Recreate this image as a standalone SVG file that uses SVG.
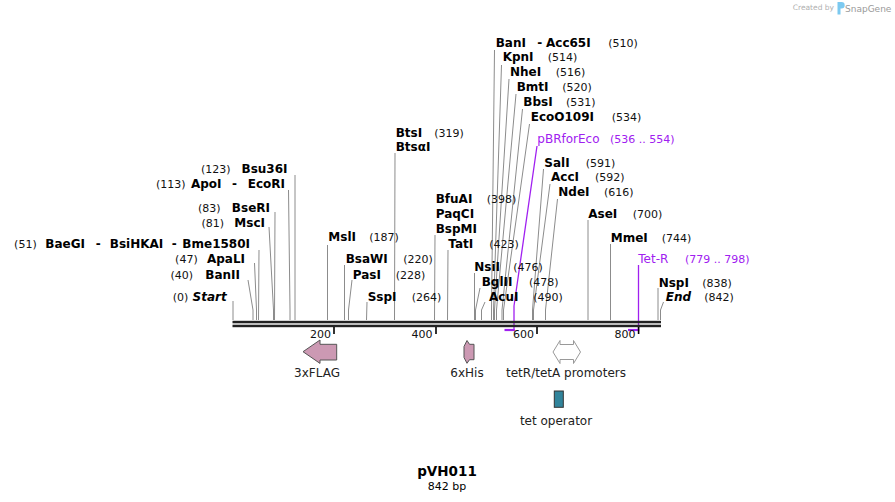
<svg xmlns="http://www.w3.org/2000/svg" width="895" height="502" viewBox="0 0 895 502">
<style>
text{font-family:"DejaVu Sans","Verdana",sans-serif;fill:#000}
.n{font-size:12px;font-weight:bold}
.i{font-size:12px;font-weight:bold;font-style:italic}
.p{font-size:11px;fill:#111}
.d{font-size:12px}
.m{font-size:12px;fill:#a020f0}
.mp{font-size:11px;fill:#a020f0}
.e{text-anchor:end}
.c{text-anchor:middle}
.f{font-size:12px;fill:#222}
.ld{fill:none;stroke:#8c8c8c;stroke-width:1}
.pr{fill:none;stroke:#a020f0;stroke-width:1.3}
.prh{stroke:#a020f0;stroke-width:2.2}
.tk{stroke:#000;stroke-width:1.6}
.pink{fill:#cc99b3;stroke:#555;stroke-width:1}
</style>

<g id="credit">
<text x="834" y="10" class="e" style="font-size:7.5px;fill:#b0b0b0">Created by</text>
<path d="M837.5,2 h4 a3.2,3.2 0 0 1 0,6.4 h-1 v6 h-3 z" fill="#7cc9f0"/>
<text x="845" y="11.5" style="font-size:9px;fill:#9a9a9a">SnapGene</text>
</g>

<g id="connectors">
<polyline class="ld" points="233,301 233,320"/>
<polyline class="ld" points="248,280 253,310 253,320"/>
<polyline class="ld" points="254.5,263 256.5,310 256.5,320"/>
<polyline class="ld" points="259,250 258.5,320"/>
<polyline class="ld" points="269,227 273.5,310 273.5,320"/>
<polyline class="ld" points="275,212 274.5,320"/>
<polyline class="ld" points="288.5,190 290,310 290,320"/>
<polyline class="ld" points="295,175 295,320"/>
<polyline class="ld" points="327.5,245 327.5,320"/>
<polyline class="ld" points="344.5,265 344.5,320"/>
<polyline class="ld" points="352,280 348.5,310 348.5,320"/>
<polyline class="ld" points="367,302 366.5,320"/>
<polyline class="ld" points="395,153 394.5,320"/>
<polyline class="ld" points="435,235 434.5,320"/>
<polyline class="ld" points="448,250 447.5,320"/>
<polyline class="ld" points="474.5,273 474.5,320"/>
<polyline class="ld" points="480,288 475.5,310 475.5,320"/>
<polyline class="ld" points="485,302 481.5,310 481.5,320"/>
<polyline class="ld" points="494.5,50 491.5,310 491.5,320"/>
<polyline class="ld" points="501.5,65 493.5,310 493.5,320"/>
<polyline class="ld" points="509,79 494.5,310 494.5,320"/>
<polyline class="ld" points="516,94 496.5,310 496.5,320"/>
<polyline class="ld" points="522.5,109 502,310 502,320"/>
<polyline class="ld" points="529.5,124 503.5,310 503.5,320"/>
<polyline class="ld" points="543.5,169 532.5,310 532.5,320"/>
<polyline class="ld" points="550,184 533.5,310 533.5,320"/>
<polyline class="ld" points="557.5,199 545.5,310 545.5,320"/>
<polyline class="ld" points="588,220 588,320"/>
<polyline class="ld" points="610.5,244 610.5,320"/>
<polyline class="ld" points="658,288 658,320"/>
<polyline class="ld" points="663.5,302 660.5,310 660.5,320"/>
<polyline class="pr" points="537,146 514,306 514,331"/>
<line class="prh" x1="504.5" y1="330" x2="514.6" y2="330"/>
<polyline class="pr" points="638.5,265 638.5,331"/>
<line class="prh" x1="628" y1="330" x2="639.1" y2="330"/>
</g>

<g id="dna">
<rect x="232.5" y="320.8" width="428.5" height="2.5" fill="#222"/>
<rect x="232.5" y="324.7" width="428.5" height="2.5" fill="#222"/>
<line class="tk" x1="334" y1="327" x2="334" y2="334"/>
<line class="tk" x1="436" y1="327" x2="436" y2="334"/>
<line class="tk" x1="537" y1="327" x2="537" y2="334"/>
<line class="tk" x1="638.6" y1="327" x2="638.6" y2="334"/>
<text class="p e" x="331" y="338">200</text>
<text class="p e" x="432.5" y="338">400</text>
<text class="p e" x="534" y="338">600</text>
<text class="p e" x="635.5" y="338">800</text>
</g>

<g id="Start"><text class="p e" x="188.3" y="301">(0)</text><text class="i e" x="226.7" y="301">Start</text></g>
<g id="BanII"><text class="p e" x="193" y="279">(40)</text><text class="n e" x="240" y="279">BanII</text></g>
<g id="ApaLI"><text class="p e" x="197.7" y="263">(47)</text><text class="n e" x="245" y="263">ApaLI</text></g>
<g id="BaeGI"><text class="p e" x="36.7" y="248">(51)</text><text class="n e" x="85" y="248">BaeGI</text><text class="n" x="95.7" y="248">-</text><text class="n e" x="163.3" y="248">BsiHKAI</text><text class="n" x="171.7" y="248">-</text><text class="n e" x="250" y="248">Bme1580I</text></g>
<g id="MscI"><text class="p e" x="224" y="227">(81)</text><text class="n e" x="265" y="227">MscI</text></g>
<g id="BseRI"><text class="p e" x="220.5" y="212">(83)</text><text class="n e" x="270" y="212">BseRI</text></g>
<g id="ApoI"><text class="p e" x="185.5" y="188">(113)</text><text class="n e" x="221.5" y="188">ApoI</text><text class="n" x="232" y="188">-</text><text class="n e" x="285" y="188">EcoRI</text></g>
<g id="Bsu36I"><text class="p e" x="230.5" y="173">(123)</text><text class="n e" x="287.5" y="173">Bsu36I</text></g>

<g id="MslI"><text class="n" x="328.3" y="241">MslI</text><text class="p" x="369.3" y="241">(187)</text></g>
<g id="BsaWI"><text class="n" x="345.7" y="263">BsaWI</text><text class="p" x="403.3" y="263">(220)</text></g>
<g id="PasI"><text class="n" x="352.7" y="279">PasI</text><text class="p" x="395.7" y="279">(228)</text></g>
<g id="SspI"><text class="n" x="367.7" y="301">SspI</text><text class="p" x="411.7" y="301">(264)</text></g>
<g id="BtsI"><text class="n" x="395.7" y="137">BtsI</text><text class="p" x="434.3" y="137">(319)</text><text class="n" x="395.7" y="151">BtsαI</text></g>
<g id="BfuAI"><text class="n" x="435.7" y="203">BfuAI</text><text class="p" x="486.7" y="203">(398)</text><text class="n" x="435.7" y="218">PaqCI</text><text class="n" x="435.7" y="233">BspMI</text></g>
<g id="TatI"><text class="n" x="448.3" y="248">TatI</text><text class="p" x="489.3" y="248">(423)</text></g>
<g id="NsiI"><text class="n" x="474.3" y="271">NsiI</text><text class="p" x="513.3" y="271">(476)</text></g>
<g id="BglII"><text class="n" x="481.7" y="286">BglII</text><text class="p" x="529" y="286">(478)</text></g>
<g id="AcuI"><text class="n" x="489" y="301">AcuI</text><text class="p" x="533.3" y="301">(490)</text></g>
<g id="BanI"><text class="n" x="495.7" y="47">BanI</text><text class="n" x="537.3" y="47">-</text><text class="n" x="546" y="47">Acc65I</text><text class="p" x="608.3" y="47">(510)</text></g>
<g id="KpnI"><text class="n" x="502.7" y="61">KpnI</text><text class="p" x="547.7" y="61">(514)</text></g>
<g id="NheI"><text class="n" x="510" y="76">NheI</text><text class="p" x="555.7" y="76">(516)</text></g>
<g id="BmtI"><text class="n" x="516.7" y="91">BmtI</text><text class="p" x="562.3" y="91">(520)</text></g>
<g id="BbsI"><text class="n" x="523.3" y="106">BbsI</text><text class="p" x="566" y="106">(531)</text></g>
<g id="EcoO109I"><text class="n" x="530.7" y="121">EcoO109I</text><text class="p" x="611.7" y="121">(534)</text></g>
<g id="pBRforEco"><text class="m" x="537.3" y="143">pBRforEco</text><text class="mp" x="610" y="143">(536 .. 554)</text></g>
<g id="SalI"><text class="n" x="544.3" y="166.5">SalI</text><text class="p" x="585.7" y="166.5">(591)</text></g>
<g id="AccI"><text class="n" x="551" y="181">AccI</text><text class="p" x="595" y="181">(592)</text></g>
<g id="NdeI"><text class="n" x="558.3" y="196">NdeI</text><text class="p" x="604" y="196">(616)</text></g>
<g id="AseI"><text class="n" x="588.3" y="218">AseI</text><text class="p" x="632.7" y="218">(700)</text></g>
<g id="MmeI"><text class="n" x="610.7" y="242">MmeI</text><text class="p" x="661.7" y="242">(744)</text></g>
<g id="TetR"><text class="m" x="638.3" y="263">Tet-R</text><text class="mp" x="685" y="263">(779 .. 798)</text></g>
<g id="NspI"><text class="n" x="658.7" y="287">NspI</text><text class="p" x="702.3" y="287">(838)</text></g>
<g id="End"><text class="i" x="665.7" y="301">End</text><text class="p" x="704.3" y="301">(842)</text></g>

<g id="f3xFLAG">
<polygon class="pink" points="303,351.7 320,340 320,344.3 336.7,344.3 336.7,360 320,360 320,363.4"/>
<text class="f c" x="317" y="377">3xFLAG</text>
</g>
<g id="f6xHis">
<polygon class="pink" points="467,340.5 469.5,344.3 474,344.3 474,359.7 469.5,359.7 467,363.3 464,357.5 464,346.5"/>
<text class="f c" x="467" y="377">6xHis</text>
</g>
<g id="fPromoters">
<polygon points="553,352 560,340.5 560,344.5 573.5,344.5 573.5,340.5 580.5,352 573.5,363.5 573.5,359.5 560,359.5 560,363.5" fill="#fff" stroke="#999" stroke-width="1"/>
<text class="f c" x="566" y="377">tetR/tetA promoters</text>
</g>
<g id="fOperator">
<rect x="554.3" y="391" width="9" height="16.3" fill="#31849b" stroke="#333" stroke-width="1"/>
<text class="f c" x="556" y="425">tet operator</text>
</g>

<g id="title">
<text x="447" y="476" class="c" style="font-size:13.5px;font-weight:bold">pVH011</text>
<text x="447" y="490" class="c" style="font-size:11px">842 bp</text>
</g>
</svg>
